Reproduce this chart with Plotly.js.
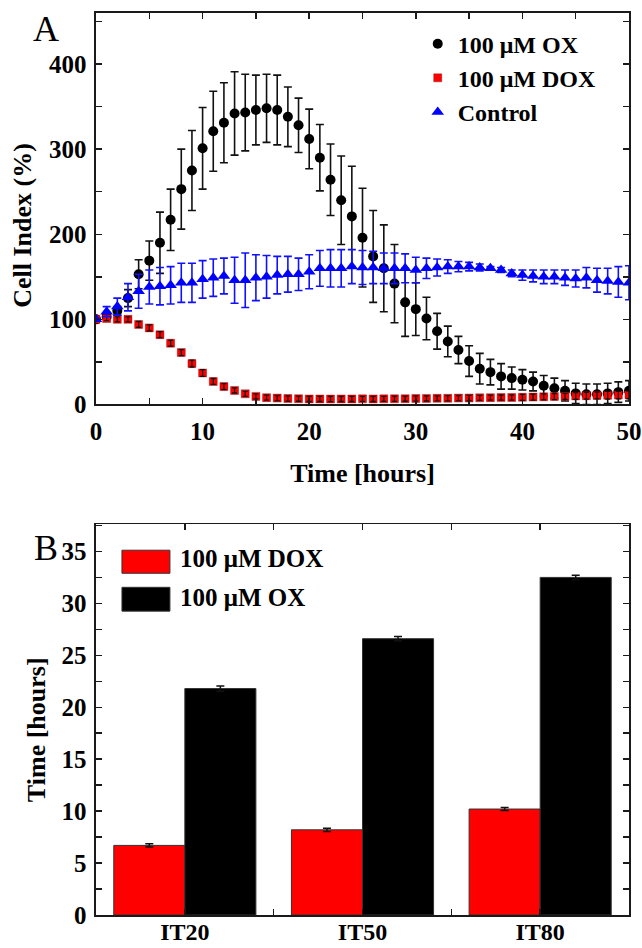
<!DOCTYPE html>
<html>
<head>
<meta charset="utf-8">
<script src="https://cdn.plot.ly/plotly-3.0.1.min.js"></script>
<style>
  html, body { margin: 0; padding: 0; background: #ffffff; }
  #chart { width: 642px; height: 948px; }
</style>
</head>
<body>
<div id="chart"></div>
<script>
// ---------- Panel A data: cell index (%) vs time (hours) ----------
const timeHours = [0,1,2,3,4,5,6,7,8,9,10,11,12,13,14,15,16,17,18,19,20,21,22,23,24,25,26,27,28,29,30,31,32,33,34,35,36,37,38,39,40,41,42,43,44,45,46,47,48,49,50];

const oxMean = [100,103,110,125,153,169,190,217,253,275,301,321,331,342,343,346,348,346,338,328,312,290,264,240,221,196,174,160,142,120,112,101,86,74,64,51,42,38,33,31,29,27,22,19,16,13,12,12,13,14.5,16];
const oxErr  = [0,2,5,10,17,23,36,36,47,47,48,47,47,49,45,41,40,41,35,32,35,39,42,52,59,58,54,51,46,40,31,25,21,18,16,18,18,15,15,13,12,11,12,12,12,12,12,12,12,12,12];

const doxMean = [100,101,100,100,94,90,82,72,61,48,37,27,21,16.5,12.5,9.5,8,7.5,7,6.8,6.5,6.5,6.4,6.5,6.5,6.6,6.5,6.6,6.7,6.8,7,7.1,7.2,7.3,7.5,7.6,7.8,8,8.1,8.2,8.4,8.7,9,9.3,9.6,10,10.3,10.6,10.8,11,11.2];
const doxErr  = [0,2.5,3,3,3.5,3.5,3.5,3.5,3.5,4,4,3.5,3.5,3,3,3,3,3,3,3,3,3,3,3,3,3,3,3,3,3,3,3,3,3,3,3,3,3,3,3,3.5,3.5,3.5,3.5,3.5,4,4,4,4.5,4.5,4.5];

const ctrlMean = [100,109,115,126,133,138,139,140,143,143,147,149,151,146,146,149,150,152,153,153,156,160,160,160,162,161,161,160,160,160,158,160,161,162,162,162,161,160,158,154,152,151,150,150,149,148,149,146,145,144,143];
const ctrlErr  = [0,6,10,16,20,20,22,22,23,23,22,22,21,27,32,27,25,22,21,19,20,21,22,22,20,20,19,18,18,17,15,12,10,8,6,5,4,2,3,4,6,7,8,8,9,10,12,14,15,18,20];

const seriesNames = ['100 \u03BCM OX', '100 \u03BCM DOX', 'Control'];

// ---------- Panel B data: inhibition times (hours) ----------
const itCategories = ['IT20', 'IT50', 'IT80'];
const itDox    = [6.7, 8.2, 10.2];
const itDoxErr = [0.15, 0.15, 0.15];
const itOx     = [21.8, 26.6, 32.5];
const itOxErr  = [0.25, 0.2, 0.2];
const barNames = ['100 \u03BCM DOX', '100 \u03BCM OX'];

// ---------- styling ----------
const FONT = 'Liberation Serif, Times New Roman, serif';
const AX = '#1a1a1a';
const itIdx = itCategories.map((_, i) => i);
const TICKSIZE = 25;
const TITLESIZE = 26;

const traces = [
  {
    type: 'scatter', mode: 'markers', name: seriesNames[0], legendgroup: 'g1',
    x: timeHours, y: oxMean, xaxis: 'x', yaxis: 'y',
    marker: { symbol: 'circle', size: 10, color: '#000000' },
    error_y: { type: 'data', array: oxErr, visible: true, color: '#111111', thickness: 1.6, width: 4 }
  },
  {
    type: 'scatter', mode: 'markers', name: seriesNames[1], legendgroup: 'g2',
    x: timeHours, y: doxMean, xaxis: 'x', yaxis: 'y',
    marker: { symbol: 'square', size: 8, color: '#ff0000', line: { width: 0.6, color: 'rgba(120,0,0,0.6)' } }
  },
  {
    // DOX error bars drawn above the red squares, as in the original figure
    type: 'scatter', mode: 'markers', name: seriesNames[1], legendgroup: 'g2', showlegend: false,
    x: timeHours, y: doxMean, xaxis: 'x', yaxis: 'y',
    marker: { symbol: 'square', size: 1, color: 'rgba(0,0,0,0)' },
    error_y: { type: 'data', array: doxErr, visible: true, color: '#111111', thickness: 1.3, width: 2.5 }
  },
  {
    type: 'scatter', mode: 'markers', name: seriesNames[2], legendgroup: 'g3',
    x: timeHours, y: ctrlMean, xaxis: 'x', yaxis: 'y',
    marker: { symbol: 'triangle-up', size: 11, color: '#0000ff' },
    error_y: { type: 'data', array: ctrlErr, visible: true, color: '#1010ff', thickness: 1.6, width: 4 }
  },
  {
    type: 'bar', name: barNames[0], showlegend: false,
    x: itIdx, y: itDox, xaxis: 'x2', yaxis: 'y2',
    marker: { color: '#ff0000', line: { width: 1, color: '#333333' } },
    error_y: { type: 'data', array: itDoxErr, visible: true, color: '#111111', thickness: 1.5, width: 4 }
  },
  {
    type: 'bar', name: barNames[1], showlegend: false,
    x: itIdx, y: itOx, xaxis: 'x2', yaxis: 'y2',
    marker: { color: '#000000', line: { width: 1, color: '#333333' } },
    error_y: { type: 'data', array: itOxErr, visible: true, color: '#111111', thickness: 1.5, width: 4 }
  }
];

function axisBase() {
  return {
    showline: true, linecolor: AX, linewidth: 1.6, mirror: 'allticks',
    ticks: 'inside', ticklen: 6, tickwidth: 1.5, tickcolor: AX,
    showgrid: false, zeroline: false, fixedrange: true,
    tickfont: { family: FONT, size: TICKSIZE, color: '#000', weight: 'bold' }
  };
}

const layout = {
  width: 642, height: 948,
  margin: { l: 96, r: 13, t: 13, b: 33 },
  paper_bgcolor: '#ffffff', plot_bgcolor: '#ffffff',
  font: { family: FONT, color: '#000' },
  showlegend: true,
  barmode: 'group', bargap: 0.2, bargroupgap: 0,
  xaxis: Object.assign(axisBase(), {
    domain: [0, 1], anchor: 'y', range: [0, 50], dtick: 10, tick0: 0,
    ticklabelstandoff: 4,
    minor: { dtick: 5, ticks: 'inside', ticklen: 6, tickwidth: 1.5, tickcolor: AX },
    title: { text: 'Time [hours]', standoff: 20, font: { family: FONT, size: TITLESIZE, color: '#000', weight: 'bold' } }
  }),
  yaxis: Object.assign(axisBase(), {
    domain: [0.566, 1], anchor: 'x', range: [0, 460], dtick: 100, tick0: 0,
    ticklabelstandoff: 3,
    minor: { dtick: 50, ticks: 'inside', ticklen: 6, tickwidth: 1.5, tickcolor: AX }
  }),
  xaxis2: Object.assign(axisBase(), {
    domain: [0, 1], anchor: 'y2', range: [-0.5, 2.5],
    tickmode: 'array', tickvals: itIdx, ticktext: itCategories,
    ticklabelstandoff: -5,
    tickfont: { family: FONT, size: 24, color: '#000', weight: 'bold' },
    minor: { dtick: 0.5, tick0: 0, ticks: 'inside', ticklen: 6, tickwidth: 1.5, tickcolor: AX }
  }),
  yaxis2: Object.assign(axisBase(), {
    domain: [0, 0.433], anchor: 'x2', range: [0, 37.6], dtick: 5, tick0: 0,
    ticklabelstandoff: 3,
    minor: { dtick: 2.5, ticks: 'inside', ticklen: 6, tickwidth: 1.5, tickcolor: AX }
  }),
  legend: {
    x: 0.6036, xanchor: 'left', y: 0.9905, yanchor: 'top',
    bgcolor: 'rgba(0,0,0,0)', borderwidth: 0,
    traceorder: 'grouped', tracegroupgap: 0,
    font: { family: FONT, size: 24, color: '#000', weight: 'bold' }
  },
  shapes: [
    { type: 'rect', xref: 'x2 domain', yref: 'y2 domain', x0: 0.0487, x1: 0.1387, y0: 0.875, y1: 0.934,
      fillcolor: '#ff0000', line: { color: '#333333', width: 1 } },
    { type: 'rect', xref: 'x2 domain', yref: 'y2 domain', x0: 0.0487, x1: 0.1387, y0: 0.778, y1: 0.839,
      fillcolor: '#000000', line: { color: '#333333', width: 1 } }
  ],
  annotations: [
    { text: 'A', xref: 'paper', yref: 'paper', x: -0.0937, y: 0.982, xanchor: 'center', yanchor: 'middle',
      showarrow: false, font: { family: FONT, size: 36, color: '#000' } },
    { text: 'B', xref: 'paper', yref: 'paper', x: -0.0937, y: 0.407, xanchor: 'center', yanchor: 'middle',
      showarrow: false, font: { family: FONT, size: 36, color: '#000' } },
    { text: 'Cell Index (%)', xref: 'paper', yref: 'paper', x: -0.1368, y: 0.7641, xanchor: 'center', yanchor: 'middle',
      textangle: -90, showarrow: false, font: { family: FONT, size: TITLESIZE, color: '#000', weight: 'bold' } },
    { text: 'Time [hours]', xref: 'paper', yref: 'paper', x: -0.1125, y: 0.205, xanchor: 'center', yanchor: 'middle',
      textangle: -90, showarrow: false, font: { family: FONT, size: TITLESIZE, color: '#000', weight: 'bold' } },
    { text: barNames[0], xref: 'x2 domain', yref: 'y2 domain', x: 0.154, y: 0.913, xanchor: 'left', yanchor: 'middle',
      showarrow: false, font: { family: FONT, size: 25, color: '#000', weight: 'bold' } },
    { text: barNames[1], xref: 'x2 domain', yref: 'y2 domain', x: 0.154, y: 0.814, xanchor: 'left', yanchor: 'middle',
      showarrow: false, font: { family: FONT, size: 25, color: '#000', weight: 'bold' } }
  ]
};

Plotly.newPlot('chart', traces, layout, { displayModeBar: false, staticPlot: true });
</script>
</body>
</html>
